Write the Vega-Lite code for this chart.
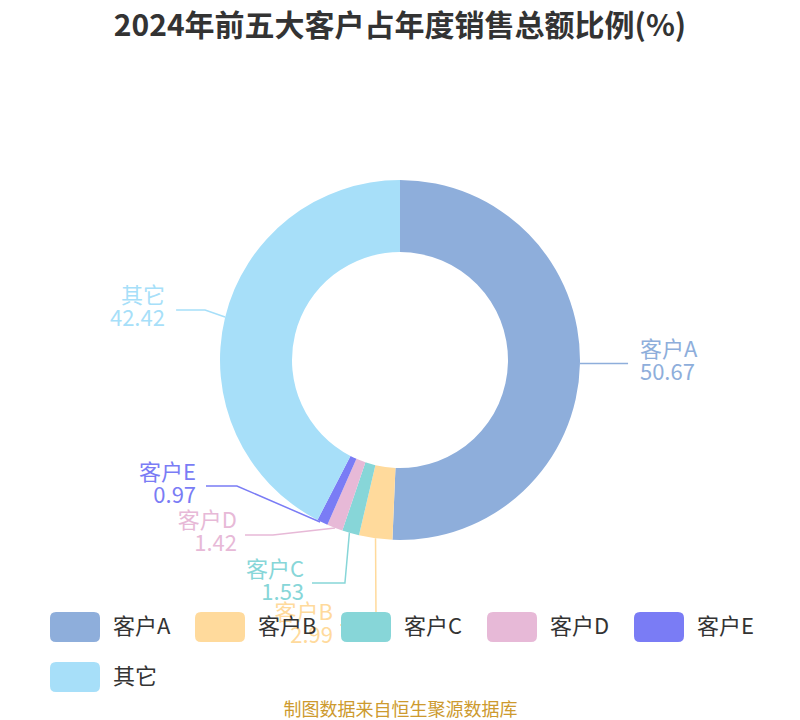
{
  "$schema": "https://vega.github.io/schema/vega-lite/v6.json",
  "width": 800,
  "height": 620,
  "autosize": {"type": "none"},
  "padding": {"top": 50, "left": 0, "right": 0, "bottom": 50},
  "title": {
    "text": "2024年前五大客户占年度销售总额比例(%)",
    "fontSize": 30,
    "fontWeight": "bold",
    "color": "#333333",
    "anchor": "middle",
    "offset": 8,
    "font": "Noto Sans CJK SC"
  },
  "datasets": {
    "shares": [
      {"name": "客户A", "value": 50.67, "rank": 1},
      {"name": "客户B", "value": 2.99, "rank": 2},
      {"name": "客户C", "value": 1.53, "rank": 3},
      {"name": "客户D", "value": 1.42, "rank": 4},
      {"name": "客户E", "value": 0.97, "rank": 5},
      {"name": "其它", "value": 42.42, "rank": 6}
    ],
    "leaders": [
      {"name": "客户A", "step": 1, "px": 1.0, "py": -0.02},
      {"name": "客户A", "step": 2, "px": 1.267, "py": -0.02},
      {"name": "客户B", "step": 1, "px": -0.136, "py": -0.99},
      {"name": "客户B", "step": 2, "px": -0.133, "py": -1.472},
      {"name": "客户B", "step": 3, "px": -0.333, "py": -1.472},
      {"name": "客户C", "step": 1, "px": -0.281, "py": -0.959},
      {"name": "客户C", "step": 2, "px": -0.306, "py": -1.239},
      {"name": "客户C", "step": 3, "px": -0.489, "py": -1.239},
      {"name": "客户D", "step": 1, "px": -0.361, "py": -0.933},
      {"name": "客户D", "step": 2, "px": -0.706, "py": -0.972},
      {"name": "客户D", "step": 3, "px": -0.861, "py": -0.972},
      {"name": "客户E", "step": 1, "px": -0.444, "py": -0.9},
      {"name": "客户E", "step": 2, "px": -0.906, "py": -0.7},
      {"name": "客户E", "step": 3, "px": -1.078, "py": -0.7},
      {"name": "其它", "step": 1, "px": -0.972, "py": 0.239},
      {"name": "其它", "step": 2, "px": -1.083, "py": 0.278},
      {"name": "其它", "step": 3, "px": -1.244, "py": 0.278}
    ],
    "labels": [
      {"name": "客户A", "value": 50.67, "px": 1.333, "py": -0.011},
      {"name": "客户B", "value": 2.99, "px": -0.372, "py": -1.467},
      {"name": "客户C", "value": 1.53, "px": -0.533, "py": -1.228},
      {"name": "客户D", "value": 1.42, "px": -0.906, "py": -0.956},
      {"name": "客户E", "value": 0.97, "px": -1.133, "py": -0.694},
      {"name": "其它", "value": 42.42, "px": -1.306, "py": 0.294}
    ]
  },
  "layer": [
    {
      "data": {"name": "shares"},
      "mark": {"type": "arc", "outerRadius": 180, "innerRadius": 108},
      "encoding": {
        "theta": {"field": "value", "type": "quantitative", "stack": true},
        "order": {"field": "rank", "type": "quantitative"},
        "color": {
          "field": "name",
          "type": "nominal",
          "scale": {
            "domain": ["客户A", "客户B", "客户C", "客户D", "客户E", "其它"],
            "range": ["#8eaedb", "#ffda9c", "#87d6d8", "#e7b9d7", "#7a7cf5", "#a7dff9"]
          },
          "legend": {
            "orient": "none",
            "legendX": 50,
            "legendY": 552,
            "direction": "horizontal",
            "columns": 5,
            "title": null,
            "symbolType": "M-0.76,-0.6L0.76,-0.6Q1,-0.6,1,-0.36L1,0.36Q1,0.6,0.76,0.6L-0.76,0.6Q-1,0.6,-1,0.36L-1,-0.36Q-1,-0.6,-0.76,-0.6Z",
            "symbolSize": 2500,
            "symbolStrokeWidth": 0,
            "symbolOpacity": 1,
            "labelFontSize": 22,
            "labelColor": "#333333",
            "labelOffset": 13,
            "columnPadding": 24,
            "rowPadding": 10,
            "labelLimit": 200
          }
        }
      }
    },
    {
      "data": {"name": "leaders"},
      "mark": {"type": "line", "strokeWidth": 1.5},
      "encoding": {
        "x": {"field": "px", "type": "quantitative", "scale": {"domain": [-2.2222, 2.2222], "nice": false, "zero": false}, "axis": {"title": "制图数据来自恒生聚源数据库"}},
        "y": {"field": "py", "type": "quantitative", "scale": {"domain": [-1.7222, 1.7222], "nice": false, "zero": false}, "axis": null},
        "order": {"field": "step", "type": "quantitative"},
        "color": {"field": "name", "type": "nominal", "legend": null}
      }
    },
    {
      "data": {"name": "labels"},
      "transform": [{"filter": "datum.name === '客户A'"}],
      "mark": {"type": "text", "align": "left", "baseline": "middle", "dy": -11.5, "fontSize": 22},
      "encoding": {
        "x": {"field": "px", "type": "quantitative", "axis": {"title": "制图数据来自恒生聚源数据库"}},
        "y": {"field": "py", "type": "quantitative", "axis": null},
        "text": {"field": "name", "type": "nominal"},
        "color": {"field": "name", "type": "nominal", "legend": null}
      }
    },
    {
      "data": {"name": "labels"},
      "transform": [{"filter": "datum.name === '客户A'"}],
      "mark": {"type": "text", "align": "left", "baseline": "middle", "dy": 11.5, "fontSize": 22},
      "encoding": {
        "x": {"field": "px", "type": "quantitative", "axis": {"title": "制图数据来自恒生聚源数据库"}},
        "y": {"field": "py", "type": "quantitative", "axis": null},
        "text": {"field": "value", "type": "quantitative", "format": ".2f"},
        "color": {"field": "name", "type": "nominal", "legend": null}
      }
    },
    {
      "data": {"name": "labels"},
      "transform": [{"filter": "datum.name !== '客户A'"}],
      "mark": {"type": "text", "align": "right", "baseline": "middle", "dy": -11.5, "fontSize": 22},
      "encoding": {
        "x": {"field": "px", "type": "quantitative", "axis": {"title": "制图数据来自恒生聚源数据库"}},
        "y": {"field": "py", "type": "quantitative", "axis": null},
        "text": {"field": "name", "type": "nominal"},
        "color": {"field": "name", "type": "nominal", "legend": null}
      }
    },
    {
      "data": {"name": "labels"},
      "transform": [{"filter": "datum.name !== '客户A'"}],
      "mark": {"type": "text", "align": "right", "baseline": "middle", "dy": 11.5, "fontSize": 22},
      "encoding": {
        "x": {"field": "px", "type": "quantitative", "axis": {"title": "制图数据来自恒生聚源数据库"}},
        "y": {"field": "py", "type": "quantitative", "axis": null},
        "text": {"field": "value", "type": "quantitative", "format": ".2f"},
        "color": {"field": "name", "type": "nominal", "legend": null}
      }
    }
  ],
  "config": {
    "view": {"stroke": null},
    "font": "Noto Sans CJK SC",
    "axisX": {
      "domain": false,
      "ticks": false,
      "labels": false,
      "grid": false,
      "titleFontSize": 18,
      "titleFontWeight": "normal",
      "titleColor": "#cd9a2e",
      "titlePadding": 31
    }
  }
}
